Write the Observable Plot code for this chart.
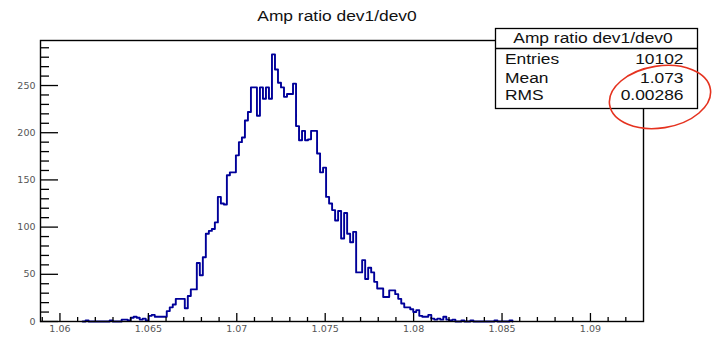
<!DOCTYPE html>
<html>
<head>
<meta charset="utf-8">
<script src="https://cdn.jsdelivr.net/npm/d3@7"></script>
<script src="https://cdn.jsdelivr.net/npm/@observablehq/plot@0.6"></script>
<style>
  html, body { margin: 0; padding: 0; background: #fff; }
  #chart svg { display: block; background: #fff; }
</style>
</head>
<body>
<div id="chart"></div>
<script>
// ---- data ----
const title = "Amp ratio dev1/dev0";
const histLow = 1.0589;
const histHigh = 1.093;
const binWidth = 0.00017;
const firstBin = 14; // index of first listed bin
const counts = [
  0, 1, 0, 0, 0, 0, 0, 0, 0, 1, 0, 0, 0, 2, 2, 1, 4, 5, 4, 2,
  3, 1, 6, 7, 5, 5, 5, 5, 11, 15, 18, 24, 24, 24, 14, 27, 34, 34, 62, 49,
  68, 93, 96, 98, 105, 132, 125, 124, 155, 158, 158, 176, 190, 195, 213, 222, 248, 248, 218, 248,
  236, 248, 236, 283, 267, 253, 248, 238, 241, 241, 252, 207, 192, 202, 192, 193, 202, 202, 178, 158,
  163, 132, 125, 118, 107, 117, 88, 115, 93, 84, 95, 52, 52, 65, 45, 57, 52, 42, 35, 35,
  26, 26, 33, 33, 29, 24, 19, 15, 15, 13, 10, 12, 6, 5, 5, 7, 3, 2, 3, 2,
  5, 2, 1, 2, 0, 0, 1, 0, 0, 1, 0, 0, 0, 0, 0, 0, 0, 1, 0, 0,
  0, 0, 1
];
const xMajor = [1.06, 1.065, 1.07, 1.075, 1.08, 1.085, 1.09];
const xMinor = [1.059, 1.061, 1.062, 1.063, 1.064, 1.066, 1.067, 1.068, 1.069, 1.071, 1.072, 1.073, 1.074,
  1.076, 1.077, 1.078, 1.079, 1.081, 1.082, 1.083, 1.084, 1.086, 1.087, 1.088, 1.089, 1.091, 1.092];
const yMajor = [0, 50, 100, 150, 200, 250];
const yMinor = [10, 20, 30, 40, 60, 70, 80, 90, 110, 120, 130, 140, 160, 170, 180, 190,
  210, 220, 230, 240, 260, 270, 280, 290];
const yMax = 297.7;
const statLabels = ["Entries", "Mean", "RMS"];
const statValues = ["10102", "1.073", "0.00286"];

// step outline points from bins
const steps = [];
counts.forEach((c, k) => {
  const x0 = histLow + (firstBin + k) * binWidth;
  if (k === 0) steps.push({x: x0, y: 0});
  steps.push({x: x0, y: c});
  steps.push({x: x0 + binWidth, y: c});
});
steps.push({x: steps[steps.length - 1].x, y: 0});

const W = 712, H = 338;
const mL = 40, mR = 69, mT = 40, mB = 17;
const frameW = W - mL - mR, frameH = H - mT - mB;

const plot = Plot.plot({
  width: W, height: H,
  marginLeft: mL, marginRight: mR, marginTop: mT, marginBottom: mB,
  x: {domain: [histLow, histHigh], axis: null},
  y: {domain: [0, yMax], axis: null},
  style: {background: "#fff"},
  marks: [
    Plot.line(steps, {x: "x", y: "y", stroke: "#000099", strokeWidth: 1.9, curve: "linear"}),
    Plot.tickX(xMajor, {x: d => d, insetTop: frameH - 8, stroke: "#000", strokeWidth: 1.3}),
    Plot.tickX(xMinor, {x: d => d, insetTop: frameH - 4, stroke: "#000", strokeWidth: 1.3}),
    Plot.tickY(yMajor, {y: d => d, insetRight: frameW - 18, stroke: "#000", strokeWidth: 1.3}),
    Plot.tickY(yMinor, {y: d => d, insetRight: frameW - 9, stroke: "#000", strokeWidth: 1.3}),
    Plot.frame({stroke: "#000", strokeWidth: 1.4}),
    Plot.axisX({ticks: xMajor, tickSize: 0, tickPadding: 4, tickFormat: d => String(d), label: null,
      fontSize: 9.5, fontFamily: "DejaVu Sans", fill: "#555"}),
    Plot.axisY({ticks: yMajor, tickSize: 0, tickPadding: 5, tickFormat: d => String(d), label: null,
      fontSize: 9.5, fontFamily: "DejaVu Sans", fill: "#555"})
  ]
});
document.getElementById("chart").appendChild(plot);

// ---- overlays: title, stats box, annotation ellipse ----
const svg = d3.select(plot);
const font = "'Liberation Sans', Arial, Helvetica, sans-serif";
function txt(x, y, s, anchor) {
  return svg.append("text")
    .attr("transform", `translate(${x},${y}) scale(1.2,1)`)
    .attr("text-anchor", anchor)
    .attr("font-family", font)
    .attr("font-size", 14.5)
    .attr("fill", "#111")
    .text(s);
}
txt(337, 21, title, "middle");

svg.append("rect")
  .attr("x", 495.5).attr("y", 28.5).attr("width", 202).attr("height", 80)
  .attr("fill", "#fff").attr("stroke", "#000").attr("stroke-width", 1.3);
svg.append("line")
  .attr("x1", 495.5).attr("x2", 697.5).attr("y1", 48.5).attr("y2", 48.5)
  .attr("stroke", "#000").attr("stroke-width", 1.3);
txt(593, 42.5, title, "middle");
const rowY = [64, 83, 100];
statLabels.forEach((s, i) => txt(505, rowY[i], s, "start"));
statValues.forEach((s, i) => txt(683.5, rowY[i], s, "end"));

svg.append("ellipse")
  .attr("cx", 0).attr("cy", 0).attr("rx", 51).attr("ry", 31)
  .attr("transform", "translate(660,97) rotate(-9)")
  .attr("fill", "none").attr("stroke", "#e5321f").attr("stroke-width", 1.6);
</script>
</body>
</html>
